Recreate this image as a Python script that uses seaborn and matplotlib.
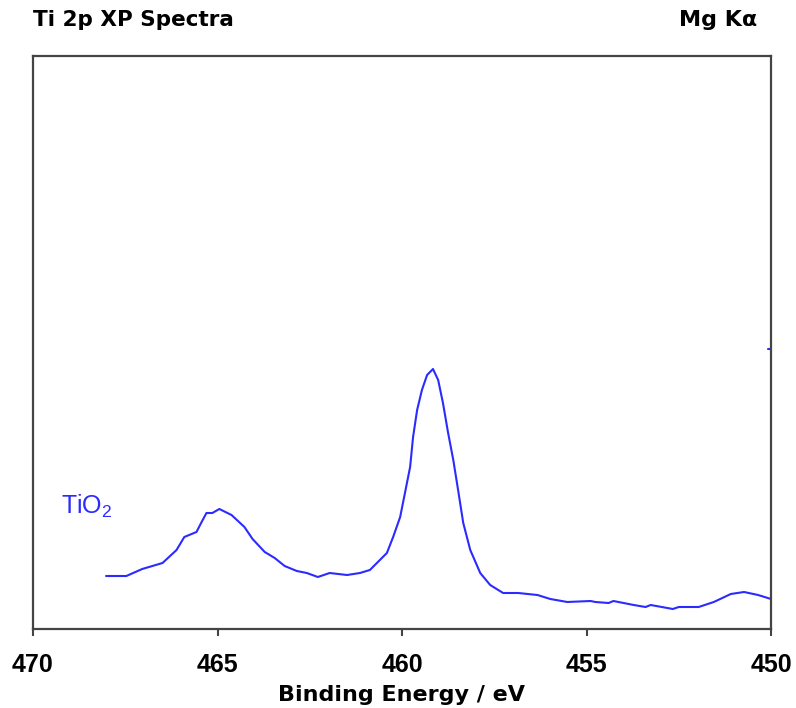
"""
Ti 2p XP spectrum of TiO2 (Mg Ka), redrawn with seaborn.
"""

import numpy as np
import pandas as pd
import matplotlib
matplotlib.use("Agg")
import matplotlib.pyplot as plt
import seaborn as sns

# --- data (binding energy in eV, intensity in arb. units) ---
binding_energy = [
    468.02, 467.47, 467.04, 466.49, 466.11, 465.90, 465.57, 465.43, 465.30,
    465.14, 464.95, 464.62, 464.27, 464.05, 463.72, 463.45, 463.18, 462.85,
    462.58, 462.28, 461.96, 461.49, 461.14, 460.87, 460.41, 460.24, 460.05,
    459.92, 459.78, 459.70, 459.59, 459.46, 459.32, 459.16, 459.02, 458.89,
    458.75, 458.61, 458.48, 458.34, 458.15, 457.88, 457.61, 457.26, 456.85,
    456.33, 455.98, 455.52, 454.89, 454.76, 454.40, 454.27, 453.72, 453.40,
    453.26, 452.66, 452.50, 451.96, 451.55, 451.09, 450.73, 450.35, 450.00,
]
intensity = [
    52, 52, 59, 65, 78, 91, 96, 106, 115,
    115, 119, 113, 101, 89, 76, 70, 62, 57,
    55, 51, 55, 53, 55, 58, 75, 91, 111,
    135, 161, 191, 218, 238, 253, 259, 248, 225,
    195, 168, 138, 105, 78, 55, 43, 35, 35,
    33, 29, 26, 27, 26, 25, 27, 23, 21,
    23, 19, 21, 21, 26, 34, 36, 33, 29,
]

# lone stray data point at the right edge
stray_be = [450.08, 450.0]
stray_int = [279, 279]

x_ticks = [470, 465, 460, 455, 450]

BLUE = "#2b2bff"
FRAME = "#444444"

sns.set_style("white")
plt.rcParams["font.family"] = ["DejaVu Sans"]
plt.rcParams["text.color"] = "black"
plt.rcParams["axes.labelcolor"] = "black"
plt.rcParams["xtick.color"] = "black"
plt.rcParams["mathtext.fontset"] = "custom"
plt.rcParams["mathtext.rm"] = "Liberation Sans"

df = pd.DataFrame({"be": binding_energy, "counts": intensity})

fig = plt.figure(figsize=(7.96, 7.08), dpi=100)
ax = fig.add_axes([33 / 796, 1 - 629 / 708, 738 / 796, 573 / 708])

sns.lineplot(data=df, x="be", y="counts", ax=ax, color=BLUE, lw=1.5,
             estimator=None, sort=False)
sns.lineplot(x=stray_be, y=stray_int, ax=ax, color=BLUE, lw=1.5,
             estimator=None, sort=False)

ax.set_xlim(470, 450)
ax.set_ylim(-1, 572)
ax.set_yticks([])
ax.set_xticks(x_ticks)
ax.set_xticklabels([str(t) for t in x_ticks], fontsize=18, fontweight="bold",
                   family="Liberation Sans")
ax.tick_params(axis="x", direction="out", length=5, width=1.5, color=FRAME,
               labelcolor="black", pad=12, bottom=True)
ax.set_xlabel("Binding Energy / eV", fontsize=16, fontweight="bold",
              labelpad=6, color="black")
ax.set_ylabel("")

for side in ax.spines.values():
    side.set_visible(True)
    side.set_color(FRAME)
    side.set_linewidth(1.6)

ax.text(469.24, 114, r"TiO$_\mathregular{2}$", color=BLUE, fontsize=18,
        family="Liberation Sans", ha="left", va="baseline")

fig.text(33 / 796, 1 - 26 / 708, "Ti 2p XP Spectra", fontsize=15.5,
         fontweight="bold", ha="left", va="baseline", color="black")
fig.text(757 / 796, 1 - 26 / 708, "Mg K\u03b1", fontsize=16,
         fontweight="bold", ha="right", va="baseline", color="black")

fig.savefig("out.png", dpi=100)
